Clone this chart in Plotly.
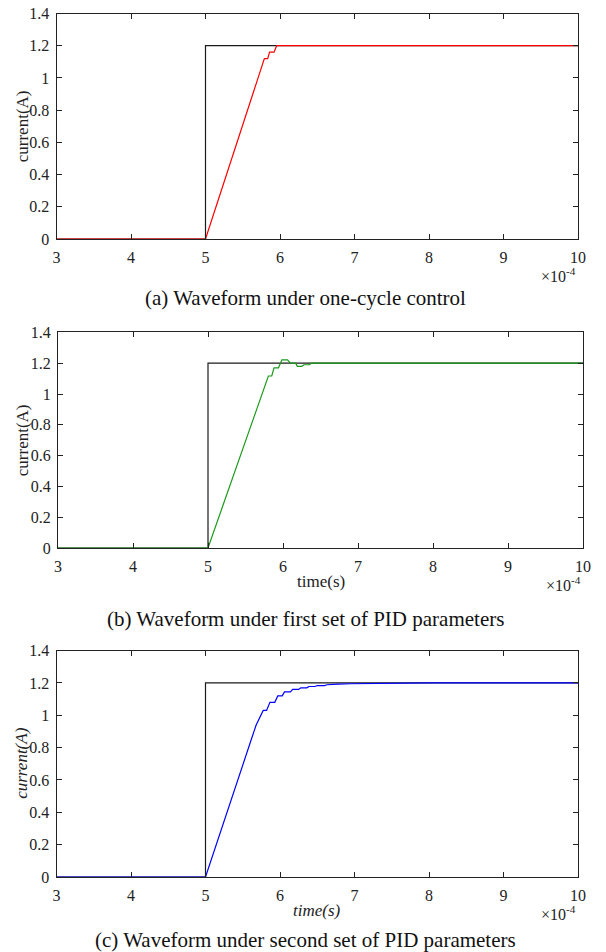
import plotly.graph_objects as go

W, H = 606, 952

# ---------------- data (time in units of 1e-4 s, current in A) ----------------
ref_t = [3, 5, 5, 10]
ref_i = [0, 0, 1.2, 1.2]

occ_t = [3, 5, 5.79, 5.835, 5.86, 5.92, 5.955, 10]
occ_i = [0, 0, 1.12, 1.12, 1.16, 1.16, 1.2, 1.2]

pid1_t = [3, 5, 5.805, 5.85, 5.88, 5.94, 5.985, 6.06, 6.10, 6.17, 6.19, 6.25, 6.28, 6.35, 6.38, 10]
pid1_i = [0, 0, 1.117, 1.117, 1.17, 1.17, 1.222, 1.222, 1.2, 1.2, 1.18, 1.18, 1.19, 1.19, 1.2, 1.2]

pid2_t = [3, 5, 5.60, 5.61, 5.68, 5.775, 5.82, 5.865, 5.93, 5.97, 6.03, 6.06, 6.14, 6.17, 6.25, 6.28,
          6.36, 6.39, 6.47, 6.50, 6.60, 6.63, 6.75, 6.78, 6.95, 7.2, 7.6, 8.0, 10]
pid2_i = [0, 0, 0.83, 0.845, 0.94, 1.03, 1.03, 1.08, 1.08, 1.12, 1.12, 1.145, 1.145, 1.16, 1.16, 1.17,
          1.17, 1.178, 1.178, 1.184, 1.184, 1.189, 1.189, 1.193, 1.195, 1.197, 1.199, 1.2, 1.2]

x_ticks = [3, 4, 5, 6, 7, 8, 9, 10]
y_ticks = [0, 0.2, 0.4, 0.6, 0.8, 1.0, 1.2, 1.4]
y_tick_text = ["0", "0.2", "0.4", "0.6", "0.8", "1", "1.2", "1.4"]

captions = ["(a) Waveform under one-cycle control",
            "(b) Waveform under first set of PID parameters",
            "(c) Waveform under second set of PID parameters"]

FONT = "Liberation Serif"

# panel boxes in pixels: (left, right, top, bottom)
boxes = [(56.5, 578, 13.5, 239), (58, 583, 332.4, 548), (56.5, 578, 650.6, 877)]

def px(x):
    return x / W

def py(y):
    return 1 - y / H

fig = go.Figure()

series = [(occ_t, occ_i, "#ff0000"), (pid1_t, pid1_i, "#1a9a1a"), (pid2_t, pid2_i, "#0000ff")]

layout = dict(
    width=W, height=H, margin=dict(l=0, r=0, t=0, b=0, autoexpand=False),
    paper_bgcolor="white", plot_bgcolor="white", showlegend=False,
    font=dict(family=FONT, size=16, color="#222"),
)

annotations = []
for k, ((l, r, t, b), (st, si, col)) in enumerate(zip(boxes, series)):
    n = "" if k == 0 else str(k + 1)
    xa, ya = "x" + n, "y" + n
    fig.add_trace(go.Scatter(x=ref_t, y=ref_i, mode="lines", line=dict(color="#1a1a1a", width=1.2),
                             xaxis=xa, yaxis=ya, hoverinfo="skip"))
    fig.add_trace(go.Scatter(x=st, y=si, mode="lines", line=dict(color=col, width=1.2),
                             xaxis=xa, yaxis=ya))
    common = dict(showgrid=False, zeroline=False, showline=True, linecolor="#222", linewidth=1,
                  mirror="ticks", ticks="inside", ticklen=5, tickcolor="#222", automargin=False,
                  tickfont=dict(family=FONT, size=16, color="#222"))
    layout["xaxis" + n] = dict(domain=[px(l), px(r)], range=[3, 10], tickvals=x_ticks,
                               anchor=ya, ticklabelstandoff=4, **common)
    layout["yaxis" + n] = dict(domain=[py(b), py(t)], range=[0, 1.4], tickvals=y_ticks,
                               ticktext=y_tick_text, anchor=xa, ticklabelstandoff=3, **common)
    # y title
    italic = (k == 2)
    ytxt = "<i>current(A)</i>" if italic else "current(A)"
    annotations.append(dict(x=px(22), y=py((t + b) / 2), xref="paper", yref="paper",
                            xanchor="center", yanchor="middle",
                            text=ytxt, textangle=-90, showarrow=False,
                            font=dict(family=FONT, size=17, color="#222")))
    # x10^-4
    annotations.append(dict(x=px(r - 20), y=py(b + 36), xref="paper", yref="paper",
                            xanchor="center", yanchor="middle",
                            text="×10<sup>-4</sup>", showarrow=False,
                            font=dict(family=FONT, size=16, color="#222")))
    if k > 0:
        xtxt = "<i>time(s)</i>" if italic else "time(s)"
        annotations.append(dict(x=px((l + r) / 2), y=py(b + 33), xref="paper", yref="paper",
                                xanchor="center", yanchor="middle",
                                text=xtxt, showarrow=False,
                                font=dict(family=FONT, size=17, color="#222")))

cap_y = [298, 619, 940]
for cap, cy in zip(captions, cap_y):
    annotations.append(dict(x=px(305), y=py(cy), xref="paper", yref="paper", text=cap,
                            xanchor="center", yanchor="middle",
                            showarrow=False, font=dict(family=FONT, size=21, color="#111")))

layout["annotations"] = annotations
fig.update_layout(**layout)
fig.write_html("out.html")
